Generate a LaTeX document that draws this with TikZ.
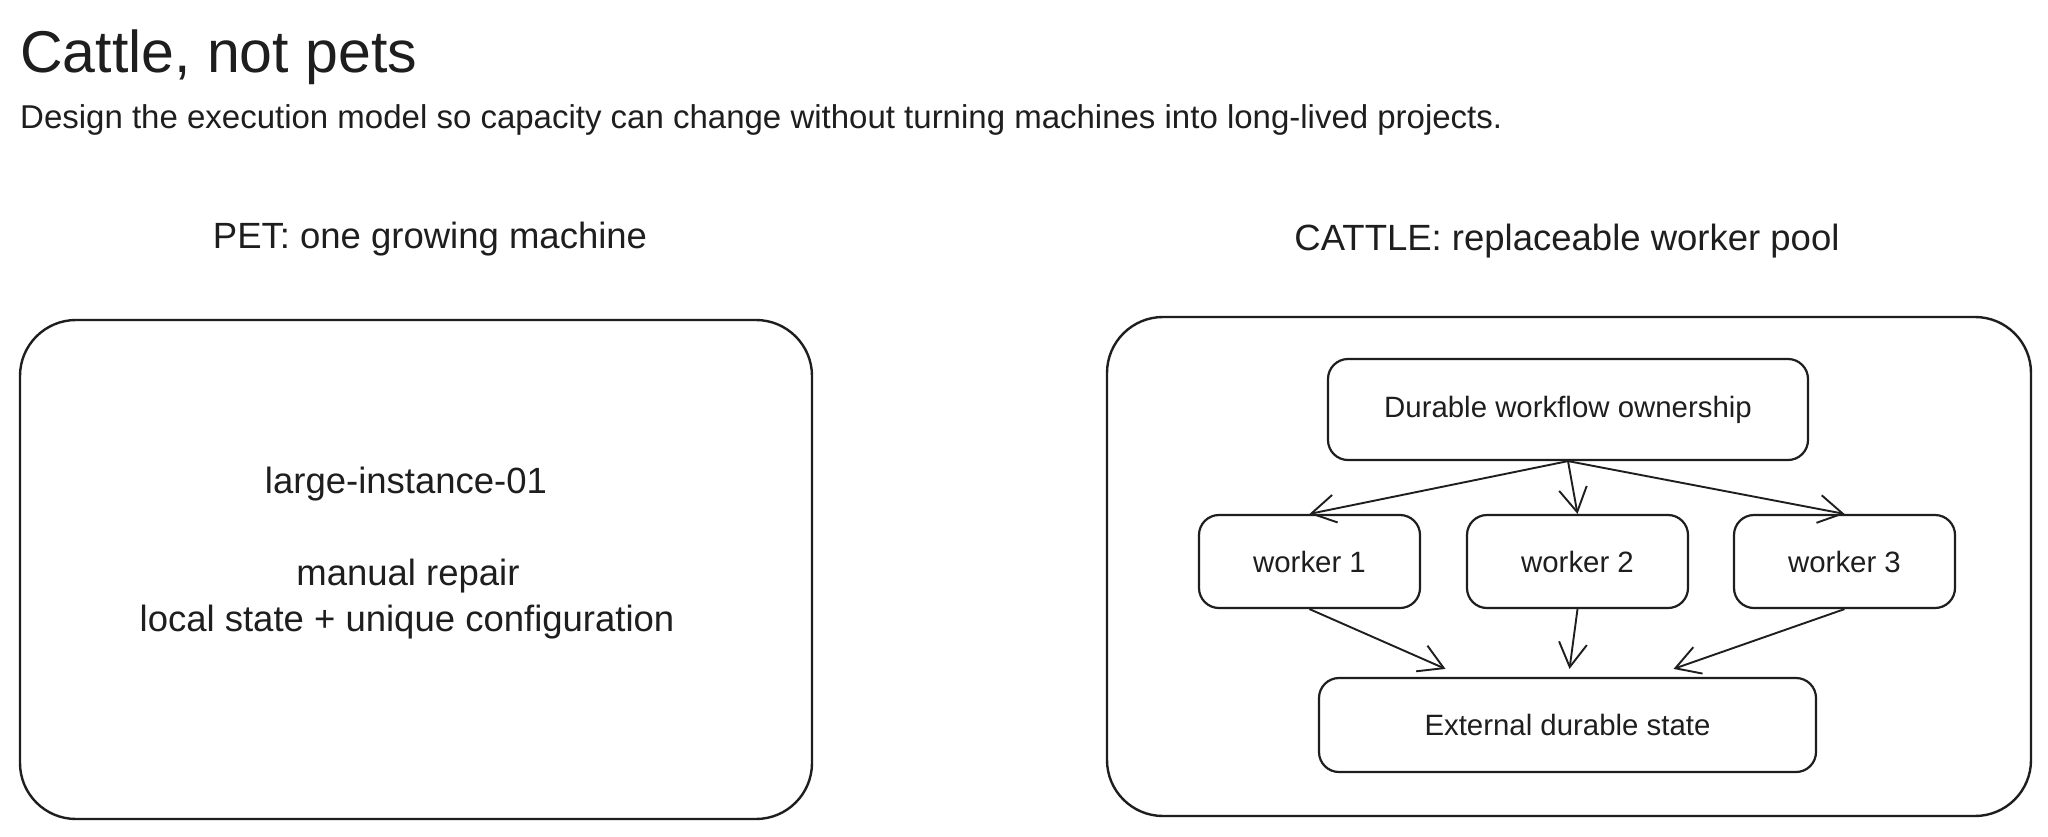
\documentclass[tikz,border=0pt]{standalone}
\usepackage{fontspec}
\setmainfont{Liberation Sans}
\usetikzlibrary{positioning, calc, arrows.meta}

\definecolor{ink}{HTML}{1E1E1E}

\newcommand{\titlesize}{\fontsize{59}{70}\selectfont}
\newcommand{\subsize}{\fontsize{33}{40}\selectfont}
\newcommand{\headsize}{\fontsize{36.5}{46}\selectfont}
\newcommand{\boxsize}{\fontsize{29.4}{36}\selectfont}

\tikzset{
  panel/.style={draw=ink, line width=2.4pt, rounded corners=56pt,
    minimum width=#1, minimum height=499pt},
  stepbox/.style={draw=ink, line width=2.2pt, rounded corners=20pt,
    minimum width=221pt, minimum height=93pt, font=\boxsize},
  flow/.style={draw=ink, line width=1.9pt,
    -{Straight Barb[length=24pt, width=28pt, line width=1.9pt]}}
}

\begin{document}
\begin{tikzpicture}[x=1pt, y=-1pt, every node/.style={text=ink, inner sep=0pt}]
    \useasboundingbox[fill=white] (0,0) rectangle (2048,836);

    % headings
    \node[anchor=base west, font=\titlesize] (title) at (20,72) {Cattle, not pets};
    \node[anchor=base west, font=\subsize] (subtitle) at (20,128) {Design the execution model so capacity can change without turning machines into long-lived projects.};
    \node[anchor=base, font=\headsize] (petlabel) at (430,248) {PET: one growing machine};
    \node[anchor=base, font=\headsize] (cattlelabel) at (1567,250) {CATTLE: replaceable worker pool};

    % pet
    \node[panel=792pt] (petbox) at (416,569.5) {};
    \node[anchor=base, font=\headsize] (petname) at (406,493) {large-instance-01};
    \node[anchor=base, font=\headsize] (petrepair) at (408,585) {manual repair};
    \node[anchor=base, font=\headsize] (petstate) at (407,631) {local state + unique configuration};

    % cattle
    \node[panel=924pt] (cattlebox) at (1569,566.5) {};
    \node[stepbox, minimum width=480pt, minimum height=101pt] (owner) at (1568,409.5) {Durable workflow ownership};
    \node[stepbox] (w1) at (1309.5,561.5) {worker 1};
    \node[stepbox] (w2) at (1577.5,561.5) {worker 2};
    \node[stepbox] (w3) at (1844.5,561.5) {worker 3};
    \node[stepbox, minimum width=497pt, minimum height=94pt] (ext) at (1567.5,725) {External durable state};

    \draw[flow] (owner.south) -- (w1.north);
    \draw[flow] (owner.south) -- (w2.north);
    \draw[flow] (owner.south) -- (w3.north);
    \draw[flow] (w1.south) -- ([xshift=-122pt, yshift=8pt]ext.north);
    \draw[flow] (w2.south) -- ([xshift=2pt, yshift=8pt]ext.north);
    \draw[flow] (w3.south) -- ([xshift=106pt, yshift=8pt]ext.north);
\end{tikzpicture}
\end{document}
